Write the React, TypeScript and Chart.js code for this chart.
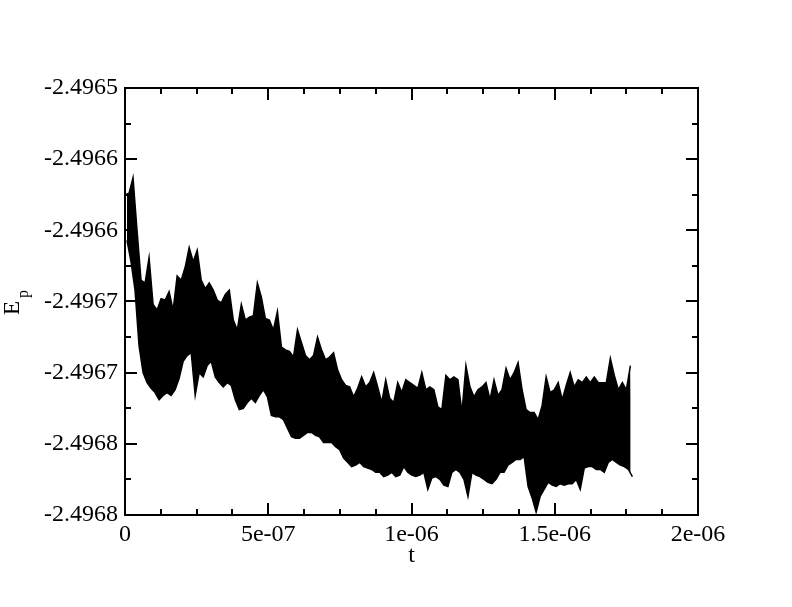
import React, { useEffect, useRef } from 'react';
import { Chart, registerables } from 'chart.js';

Chart.register(...registerables);

// Sampling interval of the trace (s)
const SAMPLE_STEP = 1.4e-8;

// Upper edge of the noisy E_p trace, one value per sample
const upperTrace = [
  -2.496575, -2.496574, -2.496563, -2.496600, -2.496635, -2.496637, -2.496619, -2.496652, -2.496656, -2.496648,
  -2.496649, -2.496643, -2.496656, -2.496632, -2.496635, -2.496626, -2.496612, -2.496622, -2.496614, -2.496635,
  -2.496641, -2.496637, -2.496642, -2.496649, -2.496651, -2.496645, -2.496642, -2.496663, -2.496670, -2.496652,
  -2.496663, -2.496661, -2.496660, -2.496637, -2.496647, -2.496662, -2.496663, -2.496670, -2.496657, -2.496682,
  -2.496684, -2.496685, -2.496689, -2.496670, -2.496679, -2.496688, -2.496691, -2.496688, -2.496675, -2.496684,
  -2.496691, -2.496689, -2.496686, -2.496698, -2.496705, -2.496709, -2.496710, -2.496717, -2.496711, -2.496703,
  -2.496710, -2.496707, -2.496700, -2.496710, -2.496721, -2.496705, -2.496718, -2.496721, -2.496707, -2.496714,
  -2.496705, -2.496707, -2.496709, -2.496711, -2.496700, -2.496712, -2.496710, -2.496712, -2.496724, -2.496726,
  -2.496702, -2.496705, -2.496703, -2.496705, -2.496728, -2.496695, -2.496710, -2.496717, -2.496712, -2.496710,
  -2.496707, -2.496719, -2.496705, -2.496716, -2.496712, -2.496697, -2.496705, -2.496700, -2.496693, -2.496712,
  -2.496726, -2.496728, -2.496728, -2.496733, -2.496723, -2.496703, -2.496714, -2.496712, -2.496707, -2.496719,
  -2.496709, -2.496700, -2.496710, -2.496705, -2.496707, -2.496703, -2.496707, -2.496703, -2.496707, -2.496707,
  -2.496707, -2.496690, -2.496702, -2.496712, -2.496707, -2.496712, -2.496695,
];

// Lower edge of the noisy E_p trace, one value per sample (offset half a step)
const lowerTrace = [
  -2.496607, -2.496622, -2.496642, -2.496681, -2.496700, -2.496707, -2.496711, -2.496714, -2.496719, -2.496716,
  -2.496714, -2.496716, -2.496712, -2.496704, -2.496692, -2.496688, -2.496686, -2.496716, -2.496700, -2.496703,
  -2.496695, -2.496692, -2.496703, -2.496707, -2.496710, -2.496707, -2.496709, -2.496719, -2.496726, -2.496725,
  -2.496721, -2.496718, -2.496721, -2.496716, -2.496712, -2.496717, -2.496730, -2.496731, -2.496731, -2.496733,
  -2.496739, -2.496745, -2.496746, -2.496746, -2.496744, -2.496742, -2.496742, -2.496744, -2.496745, -2.496749,
  -2.496749, -2.496749, -2.496752, -2.496754, -2.496760, -2.496763, -2.496766, -2.496765, -2.496763, -2.496766,
  -2.496767, -2.496768, -2.496770, -2.496770, -2.496773, -2.496772, -2.496770, -2.496773, -2.496772, -2.496766,
  -2.496770, -2.496772, -2.496773, -2.496772, -2.496770, -2.496782, -2.496774, -2.496773, -2.496775, -2.496779,
  -2.496780, -2.496770, -2.496768, -2.496770, -2.496775, -2.496787, -2.496770, -2.496772, -2.496773, -2.496775,
  -2.496777, -2.496778, -2.496775, -2.496770, -2.496770, -2.496765, -2.496763, -2.496761, -2.496761, -2.496759,
  -2.496780, -2.496788, -2.496798, -2.496787, -2.496782, -2.496777, -2.496779, -2.496780, -2.496778, -2.496779,
  -2.496778, -2.496778, -2.496775, -2.496782, -2.496767, -2.496766, -2.496766, -2.496768, -2.496768, -2.496770,
  -2.496763, -2.496761, -2.496763, -2.496765, -2.496766, -2.496768, -2.496773,
];

const xTickValues = [0, 5e-7, 1e-6, 1.5e-6, 2e-6];
const xTickLabels = ['0', '5e-07', '1e-06', '1.5e-06', '2e-06'];
const yTickValues = [-2.4968, -2.49675, -2.4967, -2.49665, -2.4966, -2.49655, -2.4965];
const yTickLabels = ['-2.4968', '-2.4968', '-2.4967', '-2.4967', '-2.4966', '-2.4966', '-2.4965'];
const xMinorPerMajor = 3;
const yMinorPerMajor = 1;

const FONT = '"Liberation Serif", "Times New Roman", serif';

const frameAndTitles = {
  id: 'frameAndTitles',
  afterDatasetsDraw(chart: any) {
    const { ctx, chartArea: a, scales } = chart;
    const xs = scales.x;
    const ys = scales.y;
    ctx.save();
    ctx.strokeStyle = '#000';
    ctx.lineWidth = 2;
    ctx.lineCap = 'butt';
    ctx.strokeRect(a.left, a.top, a.right - a.left, a.bottom - a.top);
    const major = 12;
    const minor = 6;
    ctx.beginPath();
    for (let i = 0; i < xTickValues.length; i++) {
      const p = Math.round(xs.getPixelForValue(xTickValues[i]));
      ctx.moveTo(p, a.bottom); ctx.lineTo(p, a.bottom - major);
      ctx.moveTo(p, a.top); ctx.lineTo(p, a.top + major);
      if (i < xTickValues.length - 1) {
        for (let k = 1; k <= xMinorPerMajor; k++) {
          const v = xTickValues[i] + (xTickValues[i + 1] - xTickValues[i]) * k / (xMinorPerMajor + 1);
          const q = Math.round(xs.getPixelForValue(v));
          ctx.moveTo(q, a.bottom); ctx.lineTo(q, a.bottom - minor);
          ctx.moveTo(q, a.top); ctx.lineTo(q, a.top + minor);
        }
      }
    }
    for (let i = 0; i < yTickValues.length; i++) {
      const p = Math.round(ys.getPixelForValue(yTickValues[i]));
      ctx.moveTo(a.left, p); ctx.lineTo(a.left + major, p);
      ctx.moveTo(a.right, p); ctx.lineTo(a.right - major, p);
      if (i < yTickValues.length - 1) {
        for (let k = 1; k <= yMinorPerMajor; k++) {
          const v = yTickValues[i] + (yTickValues[i + 1] - yTickValues[i]) * k / (yMinorPerMajor + 1);
          const q = Math.round(ys.getPixelForValue(v));
          ctx.moveTo(a.left, q); ctx.lineTo(a.left + minor, q);
          ctx.moveTo(a.right, q); ctx.lineTo(a.right - minor, q);
        }
      }
    }
    ctx.stroke();

    // axis titles
    ctx.fillStyle = '#000';
    ctx.font = `24px ${FONT}`;
    ctx.textAlign = 'center';
    ctx.textBaseline = 'alphabetic';
    ctx.fillText('t', (a.left + a.right) / 2, 562);

    ctx.save();
    ctx.translate(19, 308);
    ctx.rotate(-Math.PI / 2);
    ctx.font = `23px ${FONT}`;
    ctx.textAlign = 'center';
    ctx.fillText('E', 0, 0);
    ctx.font = `16px ${FONT}`;
    ctx.fillText('p', 14, 9);
    ctx.restore();
    ctx.restore();
  },
};

export default function App() {
  const ref = useRef<HTMLCanvasElement>(null);
  useEffect(() => {
    if (!ref.current) return;
    const upperPoints = upperTrace.map((v, i) => ({ x: i * SAMPLE_STEP, y: v }));
    const lowerPoints = lowerTrace.map((v, i) => ({ x: (i + 0.5) * SAMPLE_STEP, y: v }));
    const chart = new Chart(ref.current, {
      type: 'line',
      data: {
        datasets: [
          {
            data: upperPoints,
            borderColor: '#000',
            borderWidth: 1.5,
            pointRadius: 0,
            tension: 0,
            fill: false,
          },
          {
            data: lowerPoints,
            borderColor: '#000',
            backgroundColor: '#000',
            borderWidth: 1.5,
            pointRadius: 0,
            tension: 0,
            fill: '-1',
          },
        ],
      },
      options: {
        responsive: false,
        animation: false,
        devicePixelRatio: 1,
        parsing: false,
        layout: { padding: { left: 0, right: 94, top: 88, bottom: 0 } },
        plugins: { legend: { display: false }, tooltip: { enabled: false }, title: { display: false } },
        scales: {
          x: {
            type: 'linear',
            min: 0,
            max: 2e-6,
            grid: { display: false, drawTicks: false },
            border: { display: false },
            afterBuildTicks: (s: any) => { s.ticks = xTickValues.map((v) => ({ value: v })); },
            afterFit: (s: any) => { s.height = 92; },
            ticks: {
              autoSkip: false,
              maxRotation: 0,
              padding: 5,
              color: '#000',
              font: { family: FONT, size: 24 },
              callback: (_v: any, i: number) => xTickLabels[i],
            },
          },
          y: {
            type: 'linear',
            min: -2.4968,
            max: -2.4965,
            grid: { display: false, drawTicks: false },
            border: { display: false },
            afterBuildTicks: (s: any) => { s.ticks = yTickValues.map((v) => ({ value: v })); },
            afterFit: (s: any) => { s.width = 125; },
            ticks: {
              autoSkip: false,
              padding: 7,
              color: '#000',
              font: { family: FONT, size: 24 },
              callback: (_v: any, i: number) => yTickLabels[i],
            },
          },
        },
      },
      plugins: [frameAndTitles],
    });
    return () => chart.destroy();
  }, []);
  return (
    <div style={{ position: 'absolute', left: 0, top: 0, width: 792, height: 607, background: '#fff' }}>
      <canvas ref={ref} width={792} height={607} style={{ display: 'block' }} />
    </div>
  );
}
